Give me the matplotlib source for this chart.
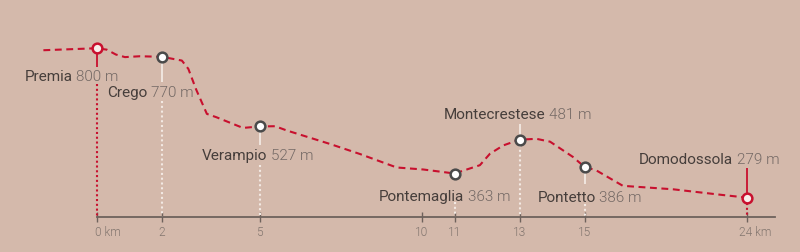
import numpy as np
import matplotlib
matplotlib.use("Agg")
import matplotlib.pyplot as plt
from matplotlib.transforms import offset_copy, ScaledTranslation

# ---------------- data ----------------
profile_km = [-1.65, 0, 0.30, 0.58, 0.86, 1.32, 2, 2.61, 2.81, 3.05, 3.38, 3.68, 4.49, 5,
              5.48, 5.84, 7.17, 8.09, 9.22, 10.04, 11, 11.78, 12.09, 12.5, 13, 13.52,
              13.94, 14.64, 15, 15.65, 17.13, 19.91, 22.68, 24]
profile_elev = [793, 800, 795, 778, 769, 772, 770, 757, 728, 656, 571, 559, 522, 527,
                528, 513, 466, 431, 384, 377, 363, 392, 432, 461, 481, 484,
                474, 421, 386, 374, 320, 308, 288, 279]

stop_names = ["Premia", "Crego", "Verampio", "Pontemaglia", "Montecrestese", "Pontetto", "Domodossola"]
stop_km = [0, 2, 5, 11, 13, 15, 24]
stop_elev = [800, 770, 527, 363, 481, 386, 279]
stop_end = [True, False, False, False, False, False, True]

tick_km = [0, 2, 5, 10, 11, 13, 15, 24]
tick_labels = ["0 km", "2", "5", "10", "11", "13", "15", "24 km"]

# ---------------- style ----------------
BG = "#d4b9ab"
RED = "#c8102e"
GREY_MK = "#4a4a4a"
PALE = "#f3e9e3"
NAME_C = "#463e3b"
NUM_C = "#746965"
AXIS_C = "#6e625c"
TICK_C = "#83766f"
FONT = "Roboto"

W, H = 800, 253
fig = plt.figure(figsize=(W / 100, H / 100), dpi=100)
fig.patch.set_facecolor(BG)
ax = fig.add_axes([0, 0, 1, 1])
ax.set_facecolor(BG)

def fwd(k):
    k = np.asarray(k, float)
    return np.where(k <= 15, k, 15 + (k - 15) * 18 / 32.5)

def inv(t):
    t = np.asarray(t, float)
    return np.where(t <= 15, t, 15 + (t - 15) * 32.5 / 18)

ax.set_xscale("function", functions=(fwd, inv))
ax.set_xlim(-2.985, 26.97)
YB, YT = 89.2, 971.7
ax.set_ylim(YB, YT)
epp = (YT - YB) / H  # elevation units per pixel

base = 211.3
axis_end = 25.56
PX = 0.72  # points per pixel at 100 dpi

# axis
for side in ("top", "left", "right"):
    ax.spines[side].set_visible(False)
ax.spines["bottom"].set_position(("data", base))
ax.spines["bottom"].set_bounds(0, axis_end)
ax.spines["bottom"].set_color(AXIS_C)
ax.spines["bottom"].set_linewidth(1.3)
ax.set_yticks([])
ax.set_xticks(tick_km, tick_labels)
ax.xaxis.set_minor_locator(matplotlib.ticker.NullLocator())
ax.tick_params(axis="x", direction="inout", length=10 * PX, width=1.0, color=AXIS_C,
               labelcolor=TICK_C, labelsize=8.6, pad=3 * PX)
for lab in ax.get_xticklabels():
    lab.set_family(FONT)
    lab.set_fontweight(300)
ticks = ax.xaxis.get_major_ticks()
ticks[0].tick1line.set_color(RED)
ticks[-1].tick1line.set_color(RED)
labs = ax.get_xticklabels()
labs[0].set_ha("left")
labs[0].set_transform(labs[0].get_transform() + ScaledTranslation(-2.5 / 100, 0, fig.dpi_scale_trans))
labs[-1].set_ha("left")
labs[-1].set_transform(labs[-1].get_transform() + ScaledTranslation(-7.5 / 100, 0, fig.dpi_scale_trans))

def off(dx, dy):
    # offset given in pixels (dy positive = up), stored in points so it scales with dpi
    return offset_copy(ax.transData, fig=fig, x=dx * PX, y=dy * PX, units="points")

# connectors: (solid start px, solid end px, dotted start px) offsets from marker; + = downward
conn = [
    (5, 19, 36),     # Premia
    (5, 25, 44),     # Crego
    (5, 19, 39),     # Verampio
    (5, 6, 28),      # Pontemaglia
    (-5, -16, 5),    # Montecrestese
    (5, 17, 37),     # Pontetto
    (-5, -30, 5),    # Domodossola
]
for k, e, end, (s0, s1, d0) in zip(stop_km, stop_elev, stop_end, conn):
    col = RED if end else PALE
    ax.plot([k, k], [e - s0 * epp, e - s1 * epp], color=col, lw=1.3, solid_capstyle="butt", zorder=2)
    ax.plot([k, k], [e - d0 * epp, base], color=col, lw=1.5, linestyle=(0, (1.0, 1.3)),
            dash_capstyle="butt", zorder=2)

# profile
ax.plot(profile_km, profile_elev, color=RED, lw=1.5, linestyle=(0, (3.3, 2.2)), zorder=5,
        dash_capstyle="butt", solid_joinstyle="round")

# markers
for k, e, end in zip(stop_km, stop_elev, stop_end):
    ec = RED if end else GREY_MK
    fc = "#f7eeea" if end else "#ffffff"
    ax.plot([k], [e], marker="o", ms=7, mfc=fc, mec=ec, mew=1.8, zorder=6)

# labels: (split dx px, baseline dy px; + = downward)
lab_pos = [(-22.7, 31.6), (-13, 39.6), (9.3, 32.4), (11.4, 26), (27.6, -22), (13, 34.4), (-11.7, -35)]
for name, k, e, (dx, dy) in zip(stop_names, stop_km, stop_elev, lab_pos):
    ax.text(k, e, name, transform=off(dx - 1.8, -dy), ha="right", va="baseline",
            fontsize=11, color=NAME_C, family=FONT, fontweight="normal", zorder=7)
    ax.text(k, e, f"{e} m", transform=off(dx + 1.8, -dy), ha="left", va="baseline",
            fontsize=11, color=NUM_C, family=FONT, fontweight=300, zorder=7)

fig.savefig("out.png", dpi=100, facecolor=BG)
